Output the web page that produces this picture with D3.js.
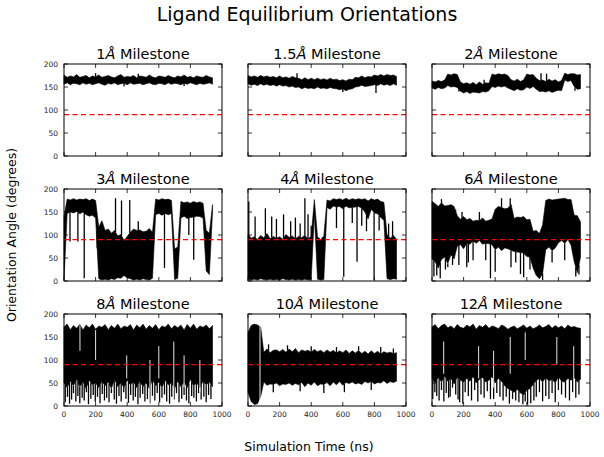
<!DOCTYPE html>
<html>
<head>
<meta charset="utf-8">
<script src="https://cdn.jsdelivr.net/npm/d3@7"></script>
<style>
  body { margin: 0; background: #fff; }
  text { font-family: "DejaVu Sans", sans-serif; }
</style>
</head>
<body>
<div id="chart"></div>
<script>
/* * * * * * * * * * * * * *
 *   Ligand orientations    *
 * * * * * * * * * * * * * */

// sample times (ns) for the band envelopes
const times = [0, 20, 40, 60, 80, 100, 120, 140, 160, 180, 200, 220, 240, 260, 280, 300,
  320, 340, 360, 380, 400, 420, 440, 460, 480, 500, 520, 540, 560, 580, 600, 620,
  640, 660, 680, 700, 720, 740, 760, 780, 800, 820, 840, 860, 880, 900, 920, 940];

const xTicks = [0, 200, 400, 600, 800, 1000];
const yTicks = [0, 50, 100, 150, 200];
const refAngle = 90;

const milestones = ["1", "1.5", "2", "3", "4", "6", "8", "10", "12"];

// 1 A
const lo1 = [156,159,155,158,157,155,159,156,158,155,157,159,156,154,158,156,159,155,157,158,155,159,156,157,
  158,155,157,159,156,155,158,157,155,159,156,158,157,155,158,156,159,157,155,158,156,157,159,156];
const hi1 = [176,171,174,172,177,171,173,175,170,174,172,176,171,173,175,172,170,174,177,171,173,172,175,170,
  174,173,171,176,172,170,174,173,171,175,172,170,174,172,176,171,173,170,174,172,171,175,172,170];
const spikeT1 = [200, 380, 470, 760];
const spikeV1 = [180, 151, 179, 152];

// 1.5 A
const lo15 = [157,154,156,153,157,154,156,153,155,152,155,152,153,150,152,149,150,146,149,147,148,146,150,147,
  148,146,149,147,146,144,146,142,145,146,150,151,154,151,152,153,155,153,157,154,156,153,157,154];
const hi15 = [175,172,174,171,175,172,174,171,173,170,174,170,172,169,173,170,169,166,170,166,169,166,169,166,
  168,165,169,166,167,164,166,163,167,166,171,170,174,170,173,172,176,174,177,174,177,175,176,173];
const spikeT15 = [310, 600, 810];
const spikeV15 = [180, 139, 137];

// 2 A
const lo2 = [148,145,149,146,148,153,150,151,149,141,137,140,136,139,138,137,140,139,142,151,149,152,150,152,
  148,145,142,146,143,144,150,147,151,145,140,141,139,142,138,141,143,142,165,162,164,151,145,146];
const hi2 = [163,161,164,162,165,178,176,179,177,161,157,159,156,160,155,161,156,159,158,178,176,179,177,178,
  175,166,163,167,162,166,178,176,177,169,164,165,162,167,163,166,161,164,180,177,179,179,176,177];
const spikeT2 = [170, 330, 690, 725, 905];
const spikeV2 = [140, 166, 180, 179, 142];

// 3 A
const lo3 = [3,147,150,148,151,146,150,144,141,143,137,5,2,4,2,5,3,7,6,12,7,5,2,4,
  2,5,3,2,6,144,147,143,147,144,147,3,6,137,141,136,138,139,141,140,137,22,14,150];
const hi3 = [140,178,176,179,176,178,177,179,175,178,175,117,131,110,113,104,110,98,101,88,97,106,113,110,
  111,107,108,114,106,178,176,179,177,178,175,70,74,173,170,172,169,173,170,172,169,110,104,166];
const spikeT3 = [38, 88, 128, 210, 326, 364, 416, 470, 636, 790, 821];
const spikeV3 = [86, 86, 6, 108, 180, 175, 176, 130, 28, 100, 46];

// 4 A
const lo4 = [3,2,4,2,5,3,2,4,2,3,2,5,3,2,4,2,3,2,4,2,3,145,4,2,
  3,160,156,163,161,162,157,163,159,160,161,162,158,150,135,156,148,146,138,132,5,3,5,4];
const hi4 = [102,93,96,90,99,94,103,92,97,93,96,91,101,95,98,92,97,94,100,91,98,177,96,90,
  98,176,174,179,177,179,176,180,176,179,177,179,177,179,174,179,176,178,173,171,101,93,99,91];
const spikeT4 = [5, 45, 110, 150, 180, 225, 270, 300, 330, 360, 380, 400, 560, 606, 660, 690, 720, 750, 798, 830, 890, 915];
const spikeV4 = [173, 140, 158, 140, 135, 145, 130, 138, 125, 180, 145, 120, 115, 9, 126, 42, 120, 108, 2, 110, 125, 130];

// 6 A
const lo6 = [48,42,28,47,52,38,57,48,76,79,70,82,80,87,82,88,80,82,81,79,68,74,66,72,
  70,67,64,63,62,61,53,52,28,12,5,16,68,74,66,72,83,88,82,90,78,42,18,52];
const hi6 = [173,168,162,170,163,164,166,162,142,134,140,133,136,130,132,131,137,130,132,135,156,162,160,157,
  158,167,136,139,138,140,133,134,108,110,103,122,175,178,176,177,178,179,180,177,177,143,142,128];
const spikeT6 = [12, 30, 52, 60, 85, 100, 130, 150, 170, 190, 220, 230, 260, 300, 340, 370, 400, 440, 495, 500,
  530, 560, 580, 620, 700, 760, 840, 910, 930];
const spikeV6 = [10, 12, 6, 178, 25, 30, 35, 155, 35, 150, 30, 40, 45, 150, 45, 6, 20, 180, 180, 30,
  40, 15, 8, 25, 2, 40, 45, 10, 14];

// 8 A
const lo8 = [50,40,54,44,58,42,52,38,56,46,50,40,54,44,52,38,58,42,50,40,56,46,52,40,
  54,42,50,38,58,44,52,40,56,46,50,38,54,42,52,40,58,44,50,40,54,46,52,42];
const hi8 = [172,178,166,175,169,177,165,176,170,178,167,174,171,177,166,175,169,178,168,174,171,177,165,176,
  170,178,167,175,169,177,166,174,171,178,168,175,170,176,165,177,169,178,167,174,171,176,168,175];
const spikeT8 = [8, 22, 35, 48, 60, 75, 88, 100, 115, 128, 142, 155, 170, 185, 198, 212, 228, 242, 256, 270,
  285, 300, 318, 332, 348, 362, 378, 392, 408, 422, 438, 452, 468, 482, 498, 512, 528, 545, 560, 575,
  590, 605, 620, 636, 650, 668, 682, 698, 712, 728, 745, 760, 775, 790, 808, 822, 838, 852, 868, 885,
  900, 915, 930];
const spikeV8 = [8, 20, 5, 14, 28, 10, 22, 6, 18, 12, 30, 4, 16, 24, 9, 20, 6, 26, 12, 18,
  8, 28, 14, 5, 22, 10, 30, 16, 7, 24, 12, 20, 4, 18, 26, 10, 15, 6, 22, 12,
  28, 8, 18, 25, 10, 5, 20, 14, 28, 8, 16, 24, 12, 6, 22, 18, 10, 28, 14, 20,
  8, 24, 15];
const gapT8 = [101, 200, 397, 544, 600, 695, 760, 860];
const gapLo8 = [120, 100, 60, 5, 60, 10, 40, 30];
const gapHi8 = [175, 165, 110, 100, 130, 140, 110, 100];

// 10 A
const lo10 = [30,10,3,5,20,52,45,48,47,50,44,48,47,50,45,49,46,51,42,50,45,52,44,48,
  47,51,44,52,46,53,45,51,49,52,48,50,47,53,50,54,48,51,50,55,49,53,51,54];
const hi10 = [160,175,178,176,172,117,124,116,121,122,118,123,117,124,118,125,116,122,119,121,117,123,118,121,
  116,122,117,121,115,120,116,122,114,120,115,121,114,119,113,120,114,119,113,118,115,117,114,116];
const spikeT10 = [130, 160, 250, 330, 400, 480, 560, 610, 700, 780, 840, 920];
const spikeV10 = [134, 30, 132, 32, 130, 28, 128, 30, 130, 35, 128, 125];
const gapT10 = [76];
const gapLo10 = [5];
const gapHi10 = [178];

// 12 A
const lo12 = [58,50,62,52,64,54,60,48,62,56,52,60,54,64,50,58,62,52,56,64,50,60,54,44,
  38,34,30,36,28,24,34,38,46,56,60,52,62,54,58,50,64,54,52,60,56,62,52,58];
const hi12 = [172,177,168,175,178,170,174,168,177,171,169,176,172,178,167,175,171,177,169,174,172,168,176,173,
  167,171,174,168,172,176,169,174,168,171,176,170,173,177,169,175,170,174,168,176,171,173,170,169];
const spikeT12 = [5, 18, 30, 45, 60, 75, 90, 105, 115, 130, 150, 165, 175, 195, 210, 230, 250, 270, 290, 310,
  330, 350, 370, 390, 410, 430, 450, 470, 490, 510, 530, 550, 575, 590, 605, 625, 645, 660, 680, 700,
  720, 740, 760, 780, 800, 820, 845, 870, 890, 910, 930];
const spikeV12 = [15, 30, 22, 12, 35, 10, 28, 18, 20, 40, 25, 14, 8, 5, 30, 22, 12, 35, 10, 25,
  18, 32, 15, 15, 28, 20, 12, 20, 5, 15, 12, 8, 4, 10, 3, 6, 12, 20, 30, 10,
  22, 15, 28, 8, 35, 25, 18, 12, 30, 18, 25];
const gapT12 = [74, 295, 390, 495, 590, 790, 897];
const gapLo12 = [70, 60, 40, 70, 100, 90, 60];
const gapHi12 = [140, 130, 120, 150, 160, 150, 130];

const bandLo = [lo1, lo15, lo2, lo3, lo4, lo6, lo8, lo10, lo12];
const bandHi = [hi1, hi15, hi2, hi3, hi4, hi6, hi8, hi10, hi12];
const spikeTs = [spikeT1, spikeT15, spikeT2, spikeT3, spikeT4, spikeT6, spikeT8, spikeT10, spikeT12];
const spikeVs = [spikeV1, spikeV15, spikeV2, spikeV3, spikeV4, spikeV6, spikeV8, spikeV10, spikeV12];
const gapTs = [[], [], [], [], [], [], gapT8, gapT10, gapT12];
const gapLos = [[], [], [], [], [], [], gapLo8, gapLo10, gapLo12];
const gapHis = [[], [], [], [], [], [], gapHi8, gapHi10, gapHi12];

const W = 604, H = 457;
const panelW = 158, panelH = 92;
const lefts = [64, 248, 432];
const tops = [64, 189, 314];

const svg = d3.select("#chart").append("svg")
  .attr("width", W)
  .attr("height", H);

const x = d3.scaleLinear().domain([0, 1000]).range([0, panelW]);
const y = d3.scaleLinear().domain([0, 200]).range([panelH, 0]);

// super title + shared labels
svg.append("text")
  .attr("x", 307).attr("y", 21)
  .attr("text-anchor", "middle")
  .style("font-size", "19px")
  .text("Ligand Equilibrium Orientations");

svg.append("text")
  .attr("x", 309).attr("y", 451)
  .attr("text-anchor", "middle")
  .style("font-size", "12.5px")
  .text("Simulation Time (ns)");

svg.append("text")
  .attr("transform", "translate(16,235) rotate(-90)")
  .attr("text-anchor", "middle")
  .style("font-size", "12.5px")
  .text("Orientation Angle (degrees)");

milestones.forEach((m, k) => {
  let col = k % 3, row = Math.floor(k / 3);
  let g = svg.append("g")
    .attr("transform", `translate(${lefts[col]},${tops[row]})`);

  let rows = times.map((t, i) => ({ t: t, lo: bandLo[k][i], hi: bandHi[k][i] }));
  let loAt = d3.scaleLinear().domain(times).range(bandLo[k]).clamp(true);
  let hiAt = d3.scaleLinear().domain(times).range(bandHi[k]).clamp(true);

  // band of the trace
  let area = d3.area()
    .x(d => x(d.t))
    .y0(d => y(d.lo))
    .y1(d => y(d.hi));

  g.append("path")
    .datum(rows)
    .attr("d", area)
    .attr("fill", "#000")
    .attr("stroke", "#000")
    .attr("stroke-width", 0.6);

  // excursions out of the band
  g.selectAll(".spike")
    .data(spikeTs[k].map((t, i) => ({ t: t, v: spikeVs[k][i] })))
    .enter().append("line")
    .attr("class", "spike")
    .attr("x1", d => x(d.t)).attr("x2", d => x(d.t))
    .attr("y1", d => y(d.v))
    .attr("y2", d => d.v > hiAt(d.t) ? y(hiAt(d.t)) : y(loAt(d.t)))
    .attr("stroke", "#000")
    .attr("stroke-width", 1.3);

  // white gaps in the trace
  g.selectAll(".gap")
    .data(gapTs[k].map((t, i) => ({ t: t, lo: gapLos[k][i], hi: gapHis[k][i] })))
    .enter().append("line")
    .attr("class", "gap")
    .attr("x1", d => x(d.t)).attr("x2", d => x(d.t))
    .attr("y1", d => y(d.hi)).attr("y2", d => y(d.lo))
    .attr("stroke", "#fff")
    .attr("stroke-width", 0.9);

  // reference line
  g.append("line")
    .attr("x1", 0).attr("x2", panelW)
    .attr("y1", y(refAngle)).attr("y2", y(refAngle))
    .attr("stroke", "#ff0000")
    .attr("stroke-width", 1.2)
    .attr("stroke-dasharray", "5,3.5");

  // ticks inside on all four sides
  let tk = 4;
  xTicks.forEach(t => {
    g.append("line").attr("x1", x(t)).attr("x2", x(t)).attr("y1", panelH).attr("y2", panelH - tk)
      .attr("stroke", "#000").attr("stroke-width", 0.8);
    g.append("line").attr("x1", x(t)).attr("x2", x(t)).attr("y1", 0).attr("y2", tk)
      .attr("stroke", "#000").attr("stroke-width", 0.8);
  });
  yTicks.forEach(v => {
    g.append("line").attr("x1", 0).attr("x2", tk).attr("y1", y(v)).attr("y2", y(v))
      .attr("stroke", "#000").attr("stroke-width", 0.8);
    g.append("line").attr("x1", panelW).attr("x2", panelW - tk).attr("y1", y(v)).attr("y2", y(v))
      .attr("stroke", "#000").attr("stroke-width", 0.8);
  });

  // frame
  g.append("rect")
    .attr("width", panelW).attr("height", panelH)
    .attr("fill", "none")
    .attr("stroke", "#000")
    .attr("stroke-width", 1);

  // tick labels
  if (col === 0) {
    g.selectAll(".ylab").data(yTicks).enter().append("text")
      .attr("x", -6).attr("y", d => y(d) + 2.6)
      .attr("text-anchor", "end")
      .style("font-size", "7.5px")
      .attr("fill", "#222")
      .text(d => d);
  }
  if (row === 2) {
    g.selectAll(".xlab").data(xTicks).enter().append("text")
      .attr("x", d => x(d)).attr("y", panelH + 11)
      .attr("text-anchor", "middle")
      .style("font-size", "7.5px")
      .attr("fill", "#222")
      .text(d => d);
  }

  // panel title
  let title = g.append("text")
    .attr("x", panelW / 2).attr("y", -5)
    .attr("text-anchor", "middle")
    .style("font-size", "14.5px");
  title.append("tspan").text(m);
  title.append("tspan").style("font-style", "italic").text("Å");
  title.append("tspan").text(" Milestone");
});
</script>
</body>
</html>
